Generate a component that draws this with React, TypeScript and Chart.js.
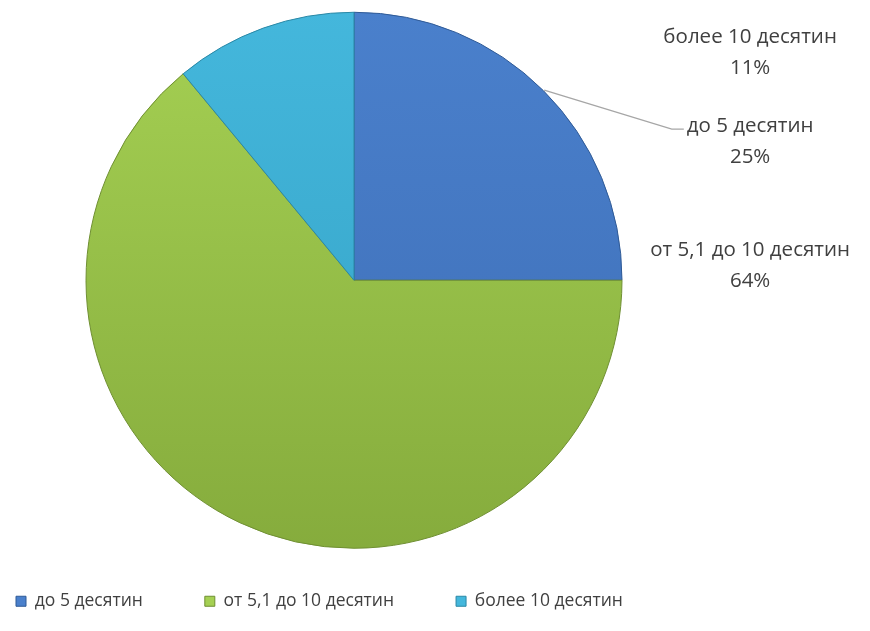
import { useEffect, useRef } from 'react';
import { Chart, registerables } from 'chart.js';

Chart.register(...registerables);

const categories = ['до 5 десятин', 'от 5,1 до 10 десятин', 'более 10 десятин'];
const shares = [25, 64, 11];
const topColors = ['#4a80cc', '#a5d053', '#44b7dc'];
const bottomColors = ['#3d6db5', '#85ab3c', '#33a0c3'];
const edgeColors = ['#2f5a96', '#6f8f32', '#2a88a6'];

// label anchors in units of the pie radius, relative to the pie centre
const labelAnchors = [
  { dx: 1.478, dy: -0.575 },
  { dx: 1.478, dy: -0.112 },
  { dx: 1.478, dy: -0.907 },
];
const leaderFor = [0];

const FONT = '"Open Sans", "Noto Sans", sans-serif';

const outerLabels = {
  id: 'outerLabels',
  afterDatasetsDraw(chart: any) {
    const meta = chart.getDatasetMeta(0);
    if (!meta || !meta.data.length) return;
    const first = meta.data[0];
    const cx = first.x;
    const cy = first.y;
    const r = first.outerRadius;
    const total = shares.reduce((a, b) => a + b, 0);
    const ctx = chart.ctx as CanvasRenderingContext2D;
    ctx.save();
    ctx.font = `20.5px ${FONT}`;
    ctx.fillStyle = '#404040';
    ctx.textAlign = 'center';
    ctx.textBaseline = 'middle';
    categories.forEach((c, i) => {
      const p = labelAnchors[i];
      const lx = cx + p.dx * r;
      const ly = cy + p.dy * r;
      ctx.fillText(c, lx, ly);
      ctx.fillText(Math.round((shares[i] / total) * 100) + '%', lx, ly + 31);
      if (leaderFor.includes(i)) {
        const arc = meta.data[i];
        const mid = (arc.startAngle + arc.endAngle) / 2;
        const sx = cx + Math.cos(mid) * (r + 1);
        const sy = cy + Math.sin(mid) * (r + 1);
        const tl = lx - ctx.measureText(c).width / 2;
        ctx.beginPath();
        ctx.strokeStyle = '#a6a6a6';
        ctx.lineWidth = 1.3;
        ctx.moveTo(sx, sy);
        ctx.lineTo(tl - 15, ly + 3);
        ctx.lineTo(tl - 3, ly + 3);
        ctx.stroke();
      }
    });
    ctx.restore();
  },
};

function sliceFill(context: any) {
  const i = context.dataIndex ?? 0;
  const chart = context.chart;
  if (!chart.chartArea) return topColors[i];
  const g = chart.ctx.createLinearGradient(0, 10, 0, 560);
  g.addColorStop(0, topColors[i]);
  g.addColorStop(1, bottomColors[i]);
  return g;
}

export default function App() {
  const ref = useRef<HTMLCanvasElement>(null);
  useEffect(() => {
    if (!ref.current) return;
    const chart = new Chart(ref.current, {
      type: 'pie',
      data: {
        labels: categories,
        datasets: [
          {
            data: shares,
            backgroundColor: sliceFill,
            borderColor: edgeColors,
            borderWidth: 1,
            radius: 268,
            clip: false as any,
          } as any,
        ],
      },
      options: {
        responsive: false,
        animation: false,
        layout: { padding: { left: 0, right: 114, top: 30, bottom: 11 } },
        plugins: {
          tooltip: { enabled: false },
          legend: {
            position: 'bottom',
            align: 'start',
            labels: {
              boxWidth: 10,
              boxHeight: 10,
              padding: 62,
              color: '#404040',
              font: { family: FONT, size: 17.5 },
              generateLabels: () =>
                categories.map((c, i) => ({
                  text: c,
                  fillStyle: topColors[i],
                  strokeStyle: edgeColors[i],
                  lineWidth: 1,
                  fontColor: '#404040',
                  hidden: false,
                  index: i,
                  datasetIndex: 0,
                })),
            },
          },
        },
      },
      plugins: [outerLabels],
    });
    return () => chart.destroy();
  }, []);
  return (
    <div style={{ position: 'fixed', left: 0, top: 0, width: 870, height: 631, overflow: 'hidden', background: '#fff' }}>
      <canvas ref={ref} width={914} height={631} style={{ position: 'absolute', left: -46, top: 0 }} />
    </div>
  );
}
